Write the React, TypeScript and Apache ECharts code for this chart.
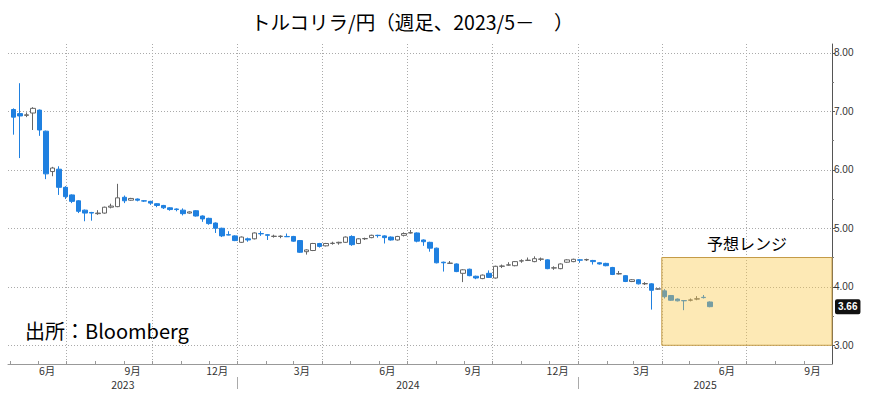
import { useEffect, useRef } from 'react';
import * as echarts from 'echarts';

const TITLE = 'トルコリラ/円（週足、2023/5－　）';
const SOURCE = '出所：Bloomberg';
const RANGE_LABEL = '予想レンジ';

// weekly candles, first week ending 2023-05-05
const FIRST_WEEK = '2023-05-05';
const opens = [
  7.03, 6.96, 6.93, 6.97, 7.02, 6.66, 5.97, 6.01, 5.70, 5.57,
  5.47, 5.31, 5.27, 5.25, 5.26, 5.36, 5.37, 5.53, 5.48, 5.50,
  5.47, 5.46, 5.42, 5.39, 5.35, 5.33, 5.31, 5.26, 5.30, 5.21,
  5.17, 5.09, 5.00, 4.89, 4.87, 4.76, 4.82, 4.82, 4.91, 4.89,
  4.86, 4.86, 4.86, 4.86, 4.79, 4.60, 4.62, 4.74, 4.70, 4.74,
  4.75, 4.76, 4.86, 4.74, 4.82, 4.84, 4.88, 4.87, 4.85, 4.80,
  4.88, 4.92, 4.92, 4.80, 4.76, 4.66, 4.42, 4.40, 4.39, 4.23,
  4.30, 4.18, 4.14, 4.23, 4.15, 4.35, 4.37, 4.36, 4.44, 4.45,
  4.43, 4.47, 4.46, 4.32, 4.31, 4.42, 4.43, 4.46, 4.46, 4.45,
  4.41, 4.40, 4.33, 4.22, 4.19, 4.09, 4.12, 4.05, 4.05, 3.96,
  3.93, 3.85, 3.79, 3.765, 3.77, 3.79, 3.82, 3.74,
];
const closes = [
  6.90, 6.92, 6.94, 7.05, 6.68, 5.93, 6.03, 5.70, 5.54, 5.46,
  5.29, 5.26, 5.26, 5.26, 5.36, 5.38, 5.52, 5.47, 5.51, 5.48,
  5.465, 5.43, 5.39, 5.35, 5.32, 5.32, 5.25, 5.28, 5.21, 5.16,
  5.08, 5.00, 4.87, 4.885, 4.79, 4.85, 4.80, 4.92, 4.905, 4.88,
  4.865, 4.865, 4.855, 4.78, 4.59, 4.63, 4.74, 4.69, 4.74, 4.745,
  4.76, 4.85, 4.72, 4.82, 4.825, 4.88, 4.875, 4.84, 4.80, 4.86,
  4.91, 4.925, 4.78, 4.77, 4.66, 4.41, 4.41, 4.405, 4.26, 4.29,
  4.19, 4.15, 4.20, 4.16, 4.35, 4.355, 4.375, 4.43, 4.445, 4.455,
  4.48, 4.475, 4.31, 4.325, 4.39, 4.46, 4.47, 4.455, 4.465, 4.43,
  4.39, 4.36, 4.21, 4.225, 4.09, 4.12, 4.05, 4.055, 3.94, 3.965,
  3.83, 3.77, 3.76, 3.76, 3.775, 3.795, 3.815, 3.66,
];
const lows = [
  6.60, 6.20, 6.90, 6.68, 6.58, 5.84, 5.89, 5.57, 5.50, 5.43,
  5.26, 5.12, 5.13, 5.23, 5.25, 5.34, 5.36, 5.43, 5.47, 5.46,
  5.45, 5.40, 5.36, 5.33, 5.30, 5.29, 5.22, 5.25, 5.20, 5.11,
  5.06, 4.92, 4.85, 4.88, 4.78, 4.75, 4.77, 4.81, 4.87, 4.80,
  4.84, 4.83, 4.85, 4.77, 4.58, 4.55, 4.61, 4.67, 4.69, 4.72,
  4.72, 4.75, 4.70, 4.73, 4.80, 4.83, 4.84, 4.74, 4.79, 4.79,
  4.86, 4.91, 4.76, 4.70, 4.60, 4.40, 4.26, 4.39, 4.25, 4.08,
  4.18, 4.13, 4.13, 4.15, 4.14, 4.32, 4.36, 4.35, 4.41, 4.44,
  4.42, 4.44, 4.30, 4.29, 4.30, 4.41, 4.42, 4.41, 4.44, 4.38,
  4.38, 4.35, 4.20, 4.21, 4.08, 4.08, 4.04, 4.03, 3.61, 3.95,
  3.80, 3.76, 3.75, 3.60, 3.75, 3.77, 3.80, 3.65,
];
const highs = [
  7.05, 7.48, 6.98, 7.07, 7.03, 6.67, 6.05, 6.06, 5.72, 5.58,
  5.48, 5.32, 5.28, 5.31, 5.37, 5.42, 5.76, 5.56, 5.52, 5.51,
  5.48, 5.47, 5.43, 5.40, 5.36, 5.34, 5.34, 5.29, 5.31, 5.22,
  5.18, 5.10, 5.01, 4.95, 4.88, 4.86, 4.84, 4.93, 4.95, 4.90,
  4.89, 4.88, 4.91, 4.87, 4.80, 4.64, 4.75, 4.75, 4.75, 4.77,
  4.77, 4.86, 4.88, 4.83, 4.84, 4.89, 4.89, 4.88, 4.86, 4.87,
  4.93, 4.97, 4.93, 4.81, 4.77, 4.67, 4.43, 4.44, 4.40, 4.30,
  4.31, 4.19, 4.21, 4.28, 4.36, 4.38, 4.42, 4.44, 4.47, 4.50,
  4.52, 4.50, 4.47, 4.35, 4.40, 4.47, 4.48, 4.47, 4.48, 4.46,
  4.42, 4.41, 4.34, 4.27, 4.20, 4.13, 4.13, 4.08, 4.06, 3.97,
  3.96, 3.86, 3.80, 3.77, 3.80, 3.84, 3.86, 3.75,
];

const X_START = '2023-04-29';
const X_END = '2025-10-01';
const quarterStarts = [
  '2023-07-01', '2023-10-01', '2024-01-01', '2024-04-01', '2024-07-01',
  '2024-10-01', '2025-01-01', '2025-04-01', '2025-07-01',
];
const monthLabelDays = [
  '2023-06-10', '2023-09-10', '2023-12-10', '2024-03-10', '2024-06-10',
  '2024-09-10', '2024-12-10', '2025-03-10', '2025-06-10', '2025-09-10',
];
const yearStarts = ['2024-01-01', '2025-01-01'];

const Y_MIN = 2.68;
const Y_MAX = 8.15;
const yTicks = [3, 4, 5, 6, 7, 8];
const yMinorTicks = [3.5, 4.5, 5.5, 6.5, 7.5];
const lastPrice = 3.66;
const forecastFrom = '2025-04-01';
const forecastTo = '2025-10-01';
const forecastHigh = 4.5;
const forecastLow = 3.0;

const DAY = 86400000;
function ts(s: string): number {
  const [y, m, d] = s.split('-').map(Number);
  return new Date(y, m - 1, d).getTime();
}

const CJK = '"Noto Sans CJK JP", "Noto Sans", sans-serif';

function buildOption() {
  const xMin = ts(X_START);
  const xMax = ts(X_END);
  const first = ts(FIRST_WEEK);
  const candles = opens.map((o, i) => [first + i * 7 * DAY, o, closes[i], lows[i], highs[i]]);

  const monthStarts: number[] = [];
  const s = new Date(xMin);
  for (let d = new Date(s.getFullYear(), s.getMonth() + 1, 1); d.getTime() < xMax; d = new Date(d.getFullYear(), d.getMonth() + 1, 1)) {
    monthStarts.push(d.getTime());
  }
  const bounds = [xMin, ...yearStarts.map(ts), xMax];
  const yearMids = bounds.slice(0, -1).map((b, i) => (b + bounds[i + 1]) / 2);

  const grid = { left: 8, right: 40, top: 44, bottom: 36 };

  return {
    animation: false,
    backgroundColor: '#fff',
    title: {
      text: TITLE,
      left: 246,
      top: 7,
      textStyle: { fontSize: 19.5, fontWeight: 'normal', color: '#000', fontFamily: CJK },
    },
    graphic: [
      {
        type: 'text',
        left: 25,
        top: 320,
        style: { text: SOURCE, fontSize: 20, fill: '#000', fontFamily: CJK },
      },
    ],
    grid,
    xAxis: [
      {
        type: 'value',
        min: xMin,
        max: xMax,
        axisLine: { show: true, onZero: false, lineStyle: { color: '#999' } },
        axisTick: { show: true, inside: true, length: 3, customValues: monthStarts, lineStyle: { color: '#999' } },
        axisLabel: { show: false },
        splitLine: { show: false },
      },
      {
        type: 'value',
        min: xMin,
        max: xMax,
        position: 'bottom',
        axisLine: { show: false, onZero: false },
        axisTick: { show: false, customValues: quarterStarts.map(ts) },
        axisLabel: {
          customValues: monthLabelDays.map(ts),
          formatter: (v: number) => `${new Date(v).getMonth() + 1}月`,
          fontSize: 10.5,
          lineHeight: 11,
          color: '#333',
          margin: 1,
          fontFamily: CJK,
        },
        splitLine: { show: true, lineStyle: { type: [1, 2], color: '#aaa' } },
      },
      {
        type: 'value',
        min: xMin,
        max: xMax,
        position: 'bottom',
        offset: 13,
        axisLine: { show: false, onZero: false },
        axisTick: { show: true, length: 12, customValues: yearStarts.map(ts), lineStyle: { color: '#aaa' } },
        axisLabel: {
          customValues: yearMids,
          formatter: (v: number) => String(new Date(v).getFullYear()),
          fontSize: 10.5,
          lineHeight: 11,
          color: '#333',
          margin: 2,
          fontFamily: CJK,
        },
        splitLine: { show: false },
      },
    ],
    yAxis: [
      {
        type: 'value',
        position: 'right',
        min: Y_MIN,
        max: Y_MAX,
        axisLine: { show: true, lineStyle: { color: '#555' } },
        axisTick: { show: true, length: 3, customValues: yTicks, lineStyle: { color: '#555' } },
        axisLabel: {
          customValues: yTicks,
          formatter: (v: number) => v.toFixed(2),
          color: '#333',
          fontSize: 10,
          margin: 2,
          fontFamily: '"Liberation Sans", Arial, sans-serif',
        },
        splitLine: { show: true, lineStyle: { type: [1, 2], color: '#aaa' } },
      },
      {
        type: 'value',
        position: 'right',
        min: Y_MIN,
        max: Y_MAX,
        axisLine: { show: false },
        axisTick: { show: true, length: 2, customValues: yMinorTicks, lineStyle: { color: '#777' } },
        axisLabel: { show: false },
        splitLine: { show: false },
      },
      {
        type: 'value',
        position: 'right',
        min: Y_MIN,
        max: Y_MAX,
        axisLine: { show: false },
        axisTick: { show: false },
        axisLabel: {
          customValues: [lastPrice],
          formatter: (v: number) => v.toFixed(2),
          color: '#fff',
          backgroundColor: '#111',
          borderRadius: 2,
          padding: [3, 3, 2, 3],
          fontSize: 10,
          fontWeight: 'bold',
          margin: 3,
          fontFamily: '"Liberation Sans", Arial, sans-serif',
        },
        splitLine: { show: false },
      },
    ],
    series: [
      {
        type: 'candlestick',
        xAxisIndex: 0,
        yAxisIndex: 0,
        z: 0.5,
        barWidth: 5,
        data: candles,
        itemStyle: {
          color: '#ffffff',
          color0: '#1f80e0',
          borderColor: '#666',
          borderColor0: '#1f80e0',
          borderWidth: 1,
        },
        markArea: {
          silent: true,
          itemStyle: { color: 'rgba(250, 200, 70, 0.4)', borderColor: '#c49a45', borderWidth: 1 },
          label: { show: true, position: 'top', distance: 6, color: '#000', fontSize: 16, fontFamily: CJK },
          data: [
            [
              { name: RANGE_LABEL, xAxis: ts(forecastFrom), yAxis: forecastHigh },
              { xAxis: ts(forecastTo), yAxis: forecastLow },
            ],
          ],
        },
      },
    ],
  };
}

export default function App() {
  const ref = useRef<HTMLDivElement>(null);
  useEffect(() => {
    const chart = echarts.init(ref.current as HTMLDivElement, null, { renderer: 'svg' });
    chart.setOption(buildOption() as any);
    return () => chart.dispose();
  }, []);
  return (
    <div
      ref={ref}
      style={{ position: 'fixed', left: 0, top: 0, width: 872, height: 400, background: '#fff' }}
    />
  );
}
